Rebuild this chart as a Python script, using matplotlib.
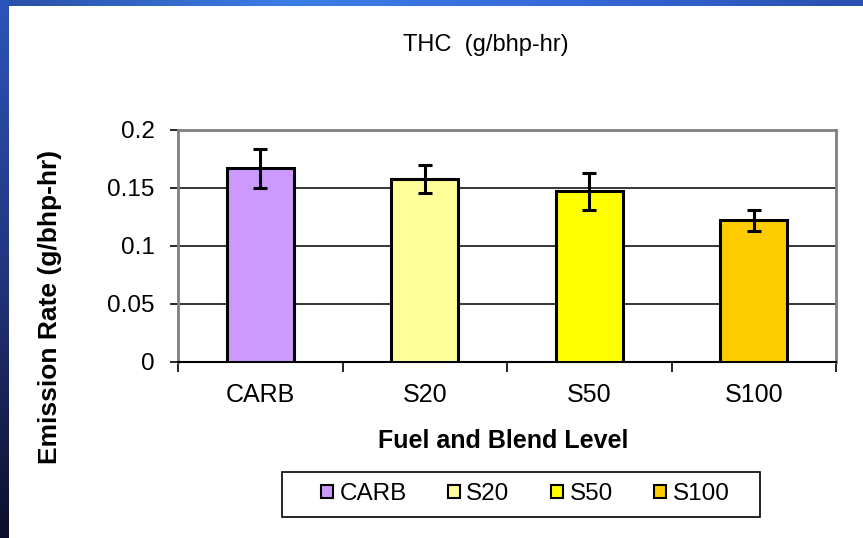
import numpy as np
import matplotlib
matplotlib.use("Agg")
import matplotlib.pyplot as plt
from matplotlib.patches import Patch, Rectangle
from matplotlib.colors import LinearSegmentedColormap

plt.rcParams['font.family'] = ['Liberation Sans', 'DejaVu Sans']

# data
fuels = ["CARB", "S20", "S50", "S100"]
thc = [0.167, 0.158, 0.147, 0.122]
thc_err = [0.017, 0.012, 0.016, 0.009]
colors = ["#CC99FF", "#FFFF99", "#FFFF00", "#FFCC00"]
y_ticks = [0, 0.05, 0.1, 0.15, 0.2]
y_tick_labels = ["0", "0.05", "0.1", "0.15", "0.2"]

W, H = 863, 538
fig = plt.figure(figsize=(W / 100, H / 100), dpi=100)

# slide background: blue strips on top and left
bg = fig.add_axes([0, 0, 1, 1], zorder=-10)
bg.set_xlim(0, W)
bg.set_ylim(H, 0)
bg.axis("off")
top_cmap = LinearSegmentedColormap.from_list("top", ["#2a4fa8", "#3b7ee6", "#3568d8", "#2a50b0"])
left_cmap = LinearSegmentedColormap.from_list("left", ["#2b55b8", "#23357e", "#0d0f2a"])
bg.imshow(np.linspace(0, 1, 200)[None, :], cmap=top_cmap, aspect="auto", extent=(0, W, 6, 0))
bg.imshow(np.linspace(0, 1, 200)[:, None], cmap=left_cmap, aspect="auto", extent=(0, 8, H, 0))
# legend box
bg.add_patch(Rectangle((282, 472), 760 - 282, 517 - 472, fill=False, edgecolor="black", linewidth=1.2))

ax = fig.add_axes([178 / W, 1 - 362 / H, (836 - 178) / W, (362 - 130) / H])
x = np.arange(len(fuels))
ax.bar(x, thc, width=0.41, color=colors, edgecolor="black", linewidth=2.2, zorder=3)
ax.errorbar(x, thc, yerr=thc_err, fmt="none", ecolor="black", elinewidth=2.2,
            capsize=5, capthick=2.2, zorder=4)

ax.set_xlim(-0.5, 3.5)
ax.set_ylim(0, 0.2)
ax.set_yticks(y_ticks)
ax.set_yticklabels(y_tick_labels, fontsize=17.5)
ax.yaxis.grid(True, color="black", linewidth=1.1, zorder=1)
ax.set_axisbelow(True)

ax.set_xticks(x)
ax.set_xticklabels(fuels, fontsize=18)
ax.set_xticks(np.arange(-0.5, 4, 1), minor=True)
ax.tick_params(axis="x", which="major", length=0, pad=15)
ax.tick_params(axis="x", which="minor", length=7, width=1.2, color="black")
ax.tick_params(axis="y", length=6, width=1.2, color="black", pad=11)

for side in ["top", "right", "left"]:
    ax.spines[side].set_color("#808080")
    ax.spines[side].set_linewidth(2)
ax.spines["bottom"].set_color("black")
ax.spines["bottom"].set_linewidth(1.5)

ax.set_xlabel("Fuel and Blend Level", fontsize=18, fontweight="bold")
ax.xaxis.set_label_coords((503 - 178) / 658, (362 - 441) / 232)
ax.xaxis.label.set_verticalalignment("center")
ax.set_ylabel("Emission Rate (g/bhp-hr)", fontsize=19, fontweight="bold")
ax.yaxis.set_label_coords((50 - 178) / 658, (362 - 307) / 232)
ax.yaxis.label.set_verticalalignment("center")

fig.text(486 / W, 1 - 45 / H, "THC  (g/bhp-hr)", fontsize=17, ha="center", va="center")

handles = [Patch(facecolor=c, edgecolor="black", linewidth=1.5) for c in colors]
leg = fig.legend(handles, fuels, loc="center", bbox_to_anchor=(525 / W, 1 - 494 / H),
                 ncol=4, fontsize=17.5, frameon=False,
                 handlelength=0.49, handleheight=0.49, handletextpad=0.28,
                 columnspacing=1.69, borderpad=0.2)

fig.savefig("out.png", dpi=100)
